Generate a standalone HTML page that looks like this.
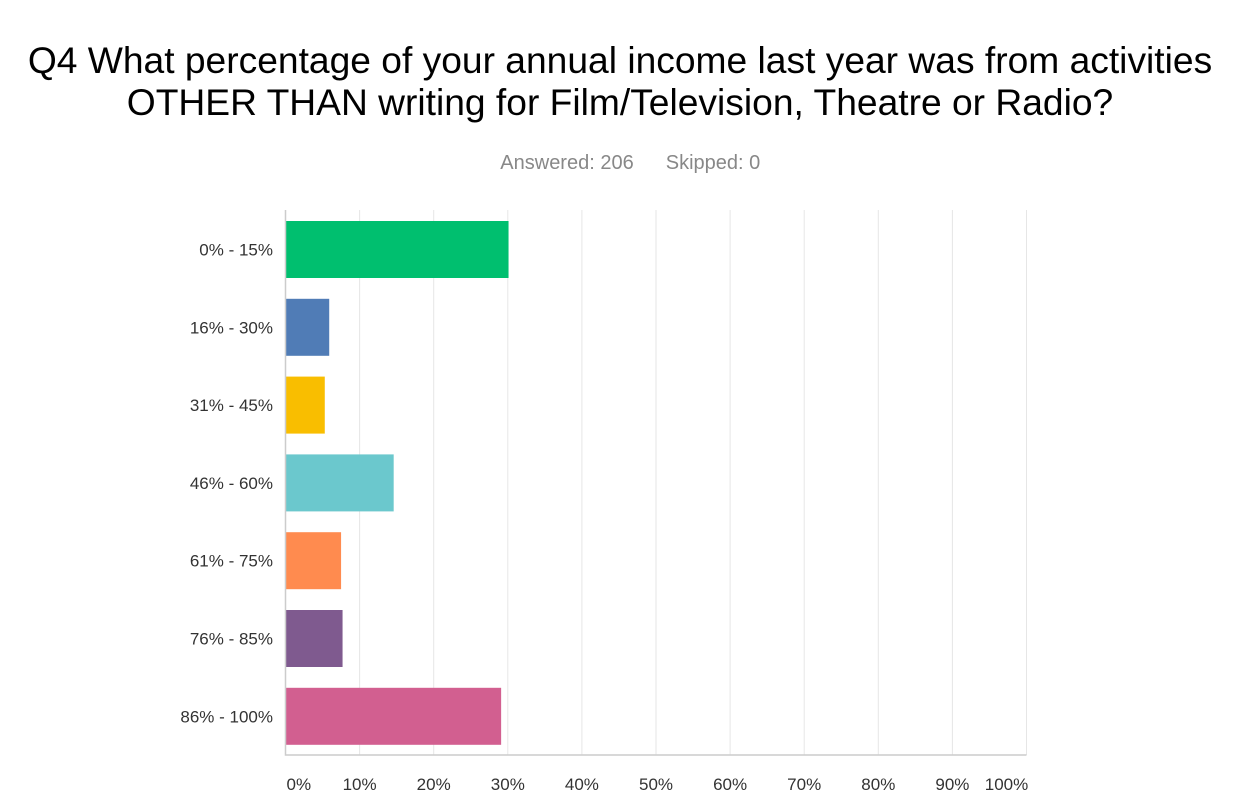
<!DOCTYPE html>
<html><head><meta charset="utf-8"><style>
body{margin:0;width:1251px;height:799px;background:#fff;font-family:"Liberation Sans",sans-serif;overflow:hidden}
</style></head><body>
<svg width="1251" height="799">
<text x="620" y="73" text-anchor="middle" font-size="37.2" fill="#000">Q4 What percentage of your annual income last year was from activities</text>
<text x="620" y="115" text-anchor="middle" font-size="37.2" fill="#000">OTHER THAN writing for Film/Television, Theatre or Radio?</text>
<text x="567" y="169" text-anchor="middle" font-size="20" fill="#888">Answered: 206</text>
<text x="713" y="169" text-anchor="middle" font-size="20" fill="#888">Skipped: 0</text>
<g id="g"></g>
</svg>
<script>
const categories=["0% - 15%","16% - 30%","31% - 45%","46% - 60%","61% - 75%","76% - 85%","86% - 100%"];
const values=[30.1,5.9,5.3,14.6,7.5,7.7,29.1];
const colors=["#00bf6f","#507cb6","#f9be00","#6bc8cd","#ff8b4f","#7f5a8f","#d25f90"];
const ticks=[0,10,20,30,40,50,60,70,80,90,100];
const x0=285.5,unit=7.41,plotTop=210,plotBottom=755,band=77.8,bh=57;
const xs=v=>x0+v*unit;
const g=document.getElementById('g');
const NS="http://www.w3.org/2000/svg";
function mk(t,a){const e=document.createElementNS(NS,t);for(const k in a)e.setAttribute(k,a[k]);g.appendChild(e);return e;}
ticks.forEach(t=>{
 if(t>0){const l=mk('line',{x1:xs(t),x2:xs(t),y1:plotTop,y2:plotBottom,stroke:'#e6e6e6','stroke-width':1});
 
 }
 const tx=mk('text',{x:t==0?xs(t)+1:(t==100?xs(t)-20:xs(t)),y:790,'font-size':17,fill:'#333','text-anchor':t==0?'start':'middle'});
 tx.textContent=t+'%';
 
 
});
categories.forEach((c,i)=>{
 const y=plotTop+11+i*band;
 const r=mk('rect',{x:x0,y:y,width:xs(values[i])-x0,height:bh,fill:colors[i]});
 
 
 const t=mk('text',{x:273,y:y+bh/2+6,'font-size':17,fill:'#333','text-anchor':'end'});
 t.textContent=c;
 
 
});
const ax=mk('path',{d:`M${x0} ${plotTop}V${plotBottom}H${xs(100)}`,stroke:'#ccc','stroke-width':1.5,fill:'none'});


</script>
</body></html>
